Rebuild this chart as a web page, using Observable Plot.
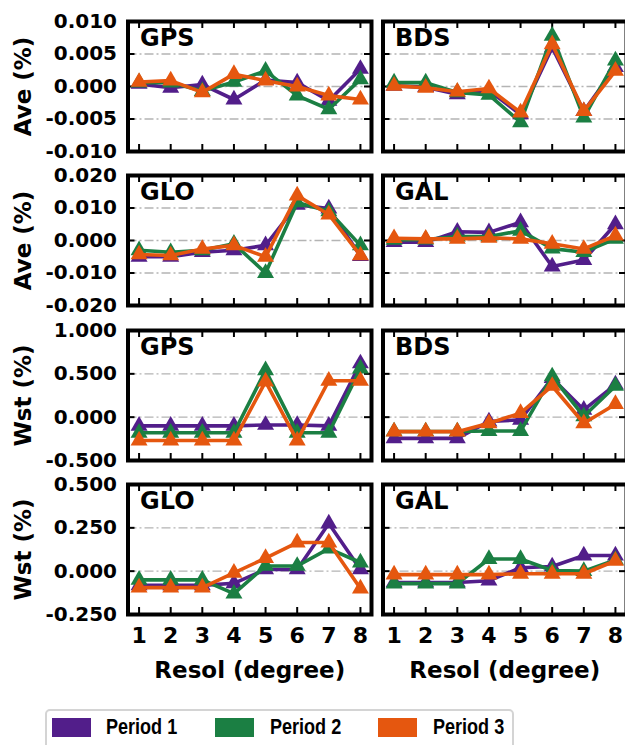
<!DOCTYPE html>
<html><head><meta charset="utf-8">
<script src="https://cdn.jsdelivr.net/npm/d3@7"></script>
<script src="https://cdn.jsdelivr.net/npm/@observablehq/plot@0.6"></script>
<style>
html,body{margin:0;padding:0;background:#fff;overflow:hidden;}
#wrap{position:relative;width:625px;height:745px;overflow:hidden;font-family:"DejaVu Sans",sans-serif;}
.panel{position:absolute;}
#legend{position:absolute;left:45px;top:709px;width:469px;height:50px;border:2px solid #d4d4d4;border-radius:5px;box-sizing:border-box;background:#fff;}
.sw{position:absolute;top:718px;width:39px;height:19px;}
.lt{position:absolute;top:714px;font-family:"Liberation Sans",Arial,sans-serif;font-weight:bold;font-size:22px;line-height:26px;color:#000;white-space:nowrap;transform:scaleX(0.82);transform-origin:0 50%;}
</style>
</head><body>
<div id="wrap"></div>
<script>
// ---------- data ----------
const X = [1, 2, 3, 4, 5, 6, 7, 8];
const SERIES = ["Period 1", "Period 2", "Period 3"];
const COLORS = ["#521e8a", "#1b7f43", "#e5570f"];

const gpsAve = [
  [0.0004, -0.0002, 0.0003, -0.0020, 0.0010, 0.0006, -0.0022, 0.0027],
  [0.0006, 0.0006, -0.0007, 0.0007, 0.0024, -0.0014, -0.0035, 0.0011],
  [0.0007, 0.0009, -0.0009, 0.0019, 0.0009, 0.0000, -0.0014, -0.0020]
];
const bdsAve = [
  [0.0001, -0.0001, -0.0012, -0.0006, -0.0043, 0.0060, -0.0038, 0.0030],
  [0.0006, 0.0006, -0.0009, -0.0013, -0.0055, 0.0078, -0.0048, 0.0040],
  [0.0001, -0.0002, -0.0008, -0.0003, -0.0040, 0.0065, -0.0038, 0.0024]
];
const gloAve = [
  [-0.0050, -0.0050, -0.0036, -0.0030, -0.0015, 0.0110, 0.0098, -0.0048],
  [-0.0030, -0.0036, -0.0030, -0.0010, -0.0100, 0.0117, 0.0090, -0.0015],
  [-0.0043, -0.0046, -0.0026, -0.0015, -0.0050, 0.0138, 0.0080, -0.0046]
];
const galAve = [
  [-0.0005, -0.0005, 0.0027, 0.0025, 0.0056, -0.0080, -0.0060, 0.0050],
  [0.0002, 0.0003, 0.0012, 0.0012, 0.0030, -0.0025, -0.0036, 0.0005],
  [0.0007, 0.0005, 0.0005, 0.0008, 0.0005, -0.0010, -0.0026, 0.0015]
];
const gpsWst = [
  [-0.10, -0.10, -0.10, -0.10, -0.09, -0.09, -0.10, 0.62],
  [-0.18, -0.18, -0.18, -0.18, 0.54, -0.18, -0.18, 0.56],
  [-0.27, -0.27, -0.27, -0.27, 0.41, -0.27, 0.42, 0.42]
];
const bdsWst = [
  [-0.245, -0.245, -0.245, -0.05, -0.03, 0.45, 0.085, 0.375],
  [-0.165, -0.165, -0.165, -0.16, -0.16, 0.47, 0.01, 0.36],
  [-0.167, -0.167, -0.167, -0.07, 0.047, 0.36, -0.07, 0.15]
];
const gloWst = [
  [-0.082, -0.082, -0.082, -0.07, 0.01, 0.01, 0.275, 0.01],
  [-0.05, -0.05, -0.05, -0.13, 0.03, 0.03, 0.13, 0.05],
  [-0.095, -0.095, -0.095, -0.01, 0.075, 0.165, 0.165, -0.10]
];
const galWst = [
  [-0.065, -0.065, -0.065, -0.055, 0.02, 0.027, 0.09, 0.09],
  [-0.072, -0.072, -0.072, 0.07, 0.07, 0.004, 0.0, 0.065],
  [-0.02, -0.02, -0.02, -0.02, -0.015, -0.015, -0.015, 0.06]
];

const TITLES = ["GPS", "BDS", "GLO", "GAL", "GPS", "BDS", "GLO", "GAL"];
const Y_LABELS = ["Ave (%)", "Ave (%)", "Wst (%)", "Wst (%)"];
const TICKS_ROW = [
  [-0.010, -0.005, 0.000, 0.005, 0.010],
  [-0.020, -0.010, 0.000, 0.010, 0.020],
  [-0.500, 0.000, 0.500, 1.000],
  [-0.250, 0.000, 0.250, 0.500]
];
const X_LABEL = "Resol (degree)";

// ---------- layout ----------
const panelsData = [gpsAve, bdsAve, gloAve, galAve, gpsWst, bdsWst, gloWst, galWst];
const FONT = "'DejaVu Sans', sans-serif";
const frameW = 243.5, frameH = 130;
const rowTops = [21, 175, 329.5, 484];
const colLefts = [127.5, 382.5];
const wrap = document.getElementById("wrap");

panelsData.forEach((vals, idx) => {
  const row = Math.floor(idx / 2), col = idx % 2;
  const left = col === 0, bottom = row === 3;
  const ticks = TICKS_ROW[row];
  const dom = [ticks[0], ticks[ticks.length - 1]];
  const grid = ticks.slice(1, -1);
  const mL = left ? colLefts[0] : 4.5;
  const mR = 4, mT = 4, mB = bottom ? 90 : 4;
  const rows = [];
  vals.forEach((arr, si) => arr.forEach((v, i) => rows.push({x: X[i], y: v, s: si})));
  const tk = {stroke: "black", strokeWidth: 2};
  const marks = [
    Plot.gridY(grid, {stroke: "#b4b4b4", strokeOpacity: 1, strokeWidth: 1.3, strokeDasharray: "9,3,2,3"}),
    Plot.tickY(grid, {y: d => d, insetRight: frameW - 7, ...tk}),
    Plot.tickY(grid, {y: d => d, insetLeft: frameW - 7, ...tk}),
    Plot.tickX(X, {x: d => d, insetBottom: frameH - 7, ...tk}),
    Plot.tickX(X, {x: d => d, insetTop: frameH - 7, ...tk})
  ];
  SERIES.forEach((name, si) => {
    const d = rows.filter(r => r.s === si);
    marks.push(Plot.line(d, {x: "x", y: "y", stroke: COLORS[si], strokeWidth: 3.6, strokeLinejoin: "round"}));
    marks.push(Plot.dot(d, {x: "x", y: "y", symbol: "triangle", r: 6.3, fill: COLORS[si], stroke: "none"}));
  });
  marks.push(Plot.frame({stroke: "black", strokeWidth: 4}));
  marks.push(Plot.text([TITLES[idx]], {frameAnchor: "top-left", dx: 12, dy: 7, textAnchor: "start", lineAnchor: "top",
    fontSize: 24, fontWeight: "bold", fill: "black"}));
  if (left) {
    marks.push(Plot.axisY(ticks, {anchor: "left", tickSize: 0, tickPadding: 11, tickFormat: d => d.toFixed(3),
      fontSize: 20, fontWeight: "bold", fill: "black", label: null}));
    marks.push(Plot.text([Y_LABELS[row]], {frameAnchor: "left", rotate: -90, dx: -104, textAnchor: "middle",
      lineAnchor: "middle", fontSize: 23, fontWeight: "bold", fill: "black"}));
  }
  if (bottom) {
    marks.push(Plot.axisX(X, {anchor: "bottom", tickSize: 0, tickPadding: 13, tickFormat: d => String(d),
      fontSize: 22, fontWeight: "bold", fill: "black", label: null}));
    marks.push(Plot.text([X_LABEL], {frameAnchor: "bottom", dy: 56, textAnchor: "middle", lineAnchor: "middle",
      fontSize: 23, fontWeight: "bold", fill: "black"}));
  }
  const chart = Plot.plot({
    width: mL + frameW + mR,
    height: mT + frameH + mB,
    marginLeft: mL, marginRight: mR, marginTop: mT, marginBottom: mB,
    x: {domain: [0.65, 8.35], axis: null},
    y: {domain: dom, axis: null},
    style: {fontFamily: FONT, background: "transparent", overflow: "visible", color: "black"},
    marks
  });
  chart.classList.add("panel");
  chart.style.left = (left ? 0 : colLefts[1] - mL) + "px";
  chart.style.top = (rowTops[row] - mT) + "px";
  wrap.appendChild(chart);
});

// ---------- legend ----------
const lg = document.createElement("div");
lg.id = "legend";
wrap.appendChild(lg);
const swX = [52, 215, 378], txX = [106, 270, 433];
SERIES.forEach((name, i) => {
  const s = document.createElement("div");
  s.className = "sw"; s.style.left = swX[i] + "px"; s.style.background = COLORS[i];
  wrap.appendChild(s);
  const t = document.createElement("div");
  t.className = "lt"; t.style.left = txX[i] + "px"; t.textContent = name;
  wrap.appendChild(t);
});
</script>
</body></html>
